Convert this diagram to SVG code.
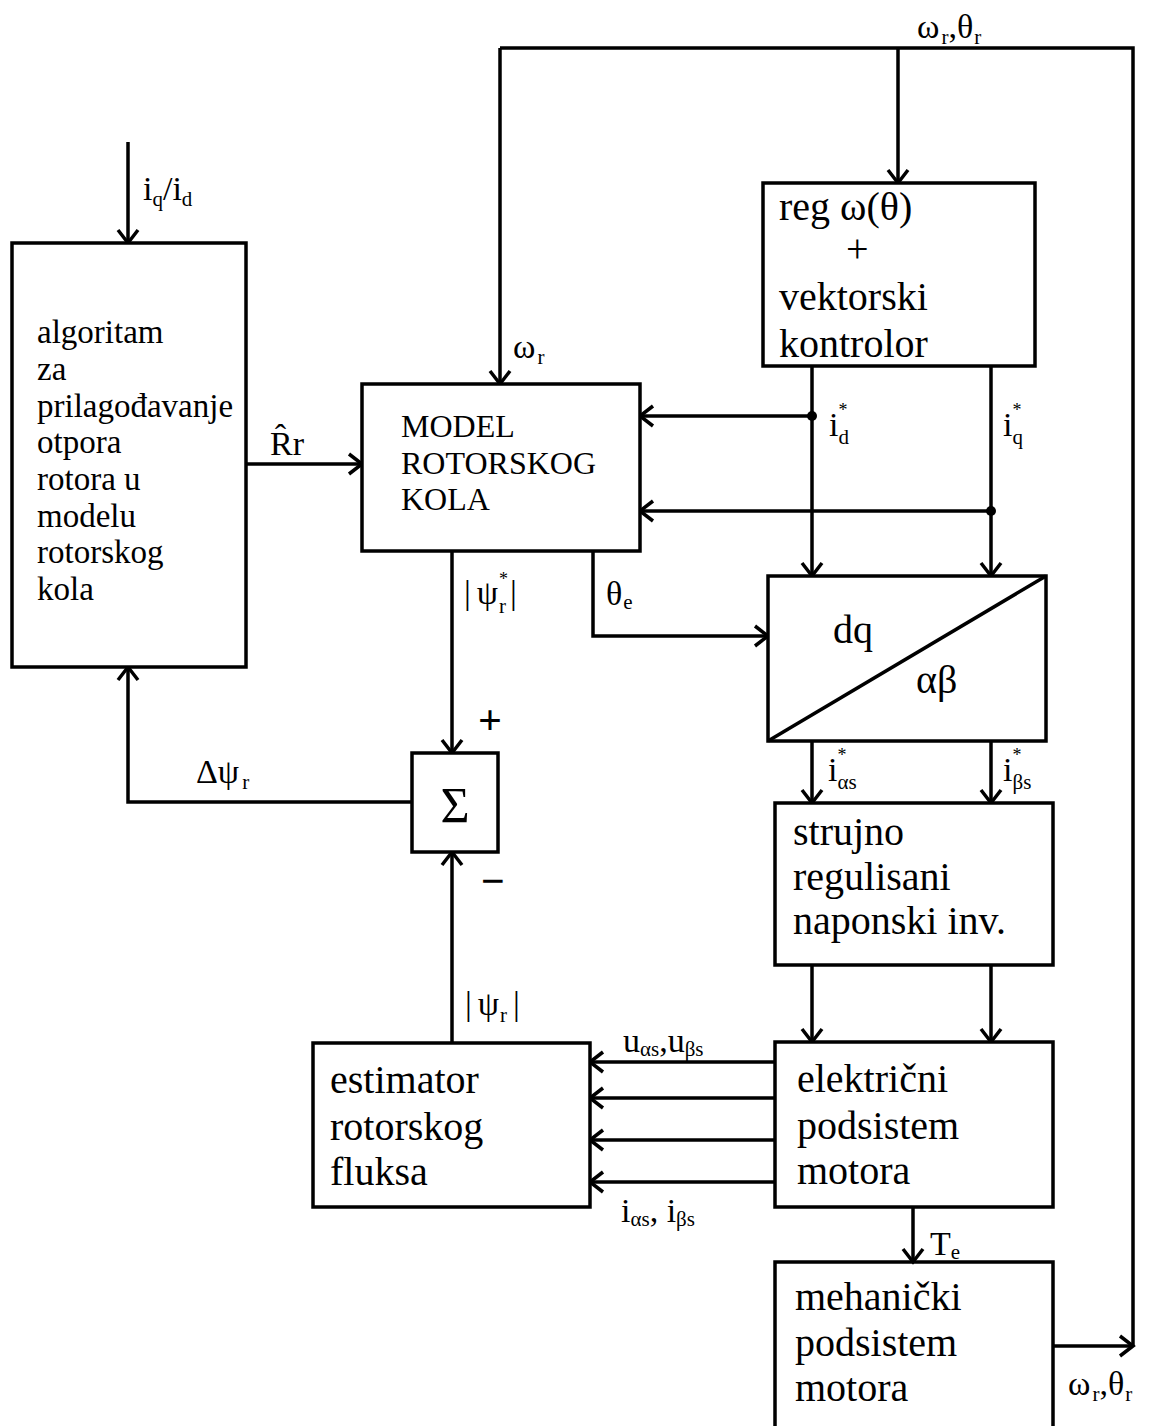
<svg xmlns="http://www.w3.org/2000/svg" width="1150" height="1426" viewBox="0 0 1150 1426">
  <style>
    text { font-family: "Liberation Serif", "Times New Roman", serif; fill: #000; }
    .box { fill: #fff; stroke: #000; stroke-width: 3.5; }
    .ln { fill: none; stroke: #000; stroke-width: 3.5; }
    .arr { fill: none; stroke: #000; stroke-width: 3.5; marker-end: url(#head); }
    .t33 { font-size: 33px; }
    .t32 { font-size: 32px; }
    .t40 { font-size: 40px; }
    .lbl { font-size: 34px; }
    .sub { font-size: 21px; }
    .star { font-size: 18px; }
    .sign { font-size: 42px; font-weight: bold; }
  </style>
  <defs>
    <marker id="head" markerUnits="userSpaceOnUse" markerWidth="18" markerHeight="24" viewBox="0 0 18 24" refX="15" refY="12" orient="auto">
      <path d="M2,2 L15,12 L2,22" fill="none" stroke="#000" stroke-width="3.5"/>
    </marker>
  </defs>

  <rect width="1150" height="1426" fill="#fff"/>

  <!-- connectors -->
  <g id="connectors">
    <!-- speed / position feedback along the top -->
    <polyline class="ln" points="500,48 1133,48 1133,1346"/>
    <line class="arr" x1="500" y1="48" x2="500" y2="384"/>
    <line class="arr" x1="898" y1="48" x2="898" y2="183"/>
    <line class="arr" x1="1053" y1="1346" x2="1133" y2="1346"/>
    <!-- reference input -->
    <line class="arr" x1="128" y1="142" x2="128" y2="243"/>
    <!-- Rr estimate -->
    <line class="arr" x1="246" y1="464" x2="362" y2="464"/>
    <!-- id*, iq* -->
    <line class="arr" x1="812" y1="366" x2="812" y2="576"/>
    <line class="arr" x1="991" y1="366" x2="991" y2="576"/>
    <line class="arr" x1="812" y1="416" x2="640" y2="416"/>
    <line class="arr" x1="991" y1="511" x2="640" y2="511"/>
    <circle cx="812" cy="416" r="5" fill="#000"/>
    <circle cx="991" cy="511" r="5" fill="#000"/>
    <!-- theta_e -->
    <polyline class="arr" points="593,551 593,636 768,636"/>
    <!-- i_alpha*, i_beta* -->
    <line class="arr" x1="812" y1="741" x2="812" y2="803"/>
    <line class="arr" x1="991" y1="741" x2="991" y2="803"/>
    <!-- inverter to motor -->
    <line class="arr" x1="812" y1="965" x2="812" y2="1042"/>
    <line class="arr" x1="991" y1="965" x2="991" y2="1042"/>
    <!-- motor measurements to estimator -->
    <line class="arr" x1="775" y1="1062" x2="590" y2="1062"/>
    <line class="arr" x1="775" y1="1098" x2="590" y2="1098"/>
    <line class="arr" x1="775" y1="1140" x2="590" y2="1140"/>
    <line class="arr" x1="775" y1="1182" x2="590" y2="1182"/>
    <!-- torque -->
    <line class="arr" x1="913" y1="1207" x2="913" y2="1262"/>
    <!-- flux paths -->
    <line class="arr" x1="452" y1="551" x2="452" y2="753"/>
    <line class="arr" x1="452" y1="1043" x2="452" y2="852"/>
    <polyline class="arr" points="412,802 128,802 128,667"/>
  </g>

  <!-- connector labels -->
  <g id="labels">
    <text class="lbl" x="917" y="38">ω<tspan class="sub" dx="2" dy="6">r</tspan><tspan dy="-6">,θ</tspan><tspan class="sub" dx="1" dy="6">r</tspan></text>
    <text class="lbl" x="143" y="200">i<tspan class="sub" dy="6">q</tspan><tspan dy="-6">/i</tspan><tspan class="sub" dy="6">d</tspan></text>
    <text class="lbl" x="513" y="358">ω<tspan class="sub" dx="2" dy="6">r</tspan></text>
    <text class="lbl" x="270" y="455">R̂r</text>
    <text class="lbl" x="829" y="436">i<tspan class="star" dy="-20">*</tspan><tspan class="sub" dx="-9" dy="28">d</tspan></text>
    <text class="lbl" x="1003" y="436">i<tspan class="star" dy="-20">*</tspan><tspan class="sub" dx="-9" dy="28">q</tspan></text>
    <text class="lbl" x="606" y="605">θ<tspan class="sub" dx="1" dy="4">e</tspan></text>
    <text class="lbl" x="464" y="604">|<tspan dx="6">ψ</tspan><tspan class="star" dx="1" dy="-19">*</tspan><tspan class="sub" dx="-9" dy="28">r</tspan><tspan dx="4" dy="-9">|</tspan></text>
    <text class="lbl" x="828" y="781">i<tspan class="star" dy="-20">*</tspan><tspan class="sub" dx="-9" dy="28">αs</tspan></text>
    <text class="lbl" x="1003" y="781">i<tspan class="star" dy="-20">*</tspan><tspan class="sub" dx="-9" dy="28">βs</tspan></text>
    <text class="sign" x="478" y="734">+</text>
    <text class="sign" x="481" y="895">−</text>
    <text class="lbl" x="196" y="783">Δψ<tspan class="sub" dx="3" dy="6">r</tspan></text>
    <text class="lbl" x="465" y="1015">|<tspan dx="6">ψ</tspan><tspan class="sub" dx="1" dy="7">r</tspan><tspan dx="6" dy="-7">|</tspan></text>
    <text class="lbl" x="623" y="1052">u<tspan class="sub" dy="4">αs</tspan><tspan dy="-4">,u</tspan><tspan class="sub" dy="4">βs</tspan></text>
    <text class="lbl" x="621" y="1222">i<tspan class="sub" dy="4">αs</tspan><tspan dy="-4">, i</tspan><tspan class="sub" dy="4">βs</tspan></text>
    <text class="lbl" x="930" y="1255">T<tspan class="sub" dy="4">e</tspan></text>
    <text class="lbl" x="1068" y="1395">ω<tspan class="sub" dx="2" dy="6">r</tspan><tspan dy="-6">,θ</tspan><tspan class="sub" dx="1" dy="6">r</tspan></text>
  </g>

  <!-- adaptation block -->
  <g id="adaptation">
    <rect class="box" x="12" y="243" width="234" height="424"/>
    <text class="t33" x="37" y="343">algoritam</text>
    <text class="t33" x="37" y="380">za</text>
    <text class="t33" x="37" y="417">prilagođavanje</text>
    <text class="t33" x="37" y="453">otpora</text>
    <text class="t33" x="37" y="490">rotora u</text>
    <text class="t33" x="37" y="527">modelu</text>
    <text class="t33" x="37" y="563">rotorskog</text>
    <text class="t33" x="37" y="600">kola</text>
  </g>

  <!-- rotor circuit model -->
  <g id="rotor-model">
    <rect class="box" x="362" y="384" width="278" height="167"/>
    <text class="t32" x="401" y="437">MODEL</text>
    <text class="t32" x="401" y="474">ROTORSKOG</text>
    <text class="t32" x="401" y="510">KOLA</text>
  </g>

  <!-- speed/position regulator and vector controller -->
  <g id="controller">
    <rect class="box" x="763" y="183" width="272" height="183"/>
    <text class="t40" x="779" y="220">reg ω(θ)</text>
    <text class="t40" x="846" y="262">+</text>
    <text class="t40" x="779" y="310">vektorski</text>
    <text class="t40" x="779" y="357">kontrolor</text>
  </g>

  <!-- dq to alpha-beta transformation -->
  <g id="transform">
    <rect class="box" x="768" y="576" width="278" height="165"/>
    <line class="ln" x1="768" y1="741" x2="1046" y2="576"/>
    <text class="t40" x="833" y="643">dq</text>
    <text class="t40" x="916" y="693">αβ</text>
  </g>

  <!-- summing junction -->
  <g id="sum">
    <rect class="box" x="412" y="753" width="86" height="99"/>
    <text x="455" y="822" font-size="50" text-anchor="middle">Σ</text>
  </g>

  <!-- current regulated voltage inverter -->
  <g id="inverter">
    <rect class="box" x="775" y="803" width="278" height="162"/>
    <text class="t40" x="793" y="845">strujno</text>
    <text class="t40" x="793" y="890">regulisani</text>
    <text class="t40" x="793" y="934">naponski inv.</text>
  </g>

  <!-- rotor flux estimator -->
  <g id="estimator">
    <rect class="box" x="313" y="1043" width="277" height="164"/>
    <text class="t40" x="330" y="1093">estimator</text>
    <text class="t40" x="330" y="1140">rotorskog</text>
    <text class="t40" x="330" y="1185">fluksa</text>
  </g>

  <!-- electrical subsystem -->
  <g id="electrical">
    <rect class="box" x="775" y="1042" width="278" height="165"/>
    <text class="t40" x="797" y="1092">električni</text>
    <text class="t40" x="797" y="1139">podsistem</text>
    <text class="t40" x="797" y="1184">motora</text>
  </g>

  <!-- mechanical subsystem (runs past the lower edge) -->
  <g id="mechanical">
    <polyline class="ln" points="775,1430 775,1262 1053,1262 1053,1430"/>
    <text class="t40" x="795" y="1310">mehanički</text>
    <text class="t40" x="795" y="1356">podsistem</text>
    <text class="t40" x="795" y="1401">motora</text>
  </g>
</svg>
